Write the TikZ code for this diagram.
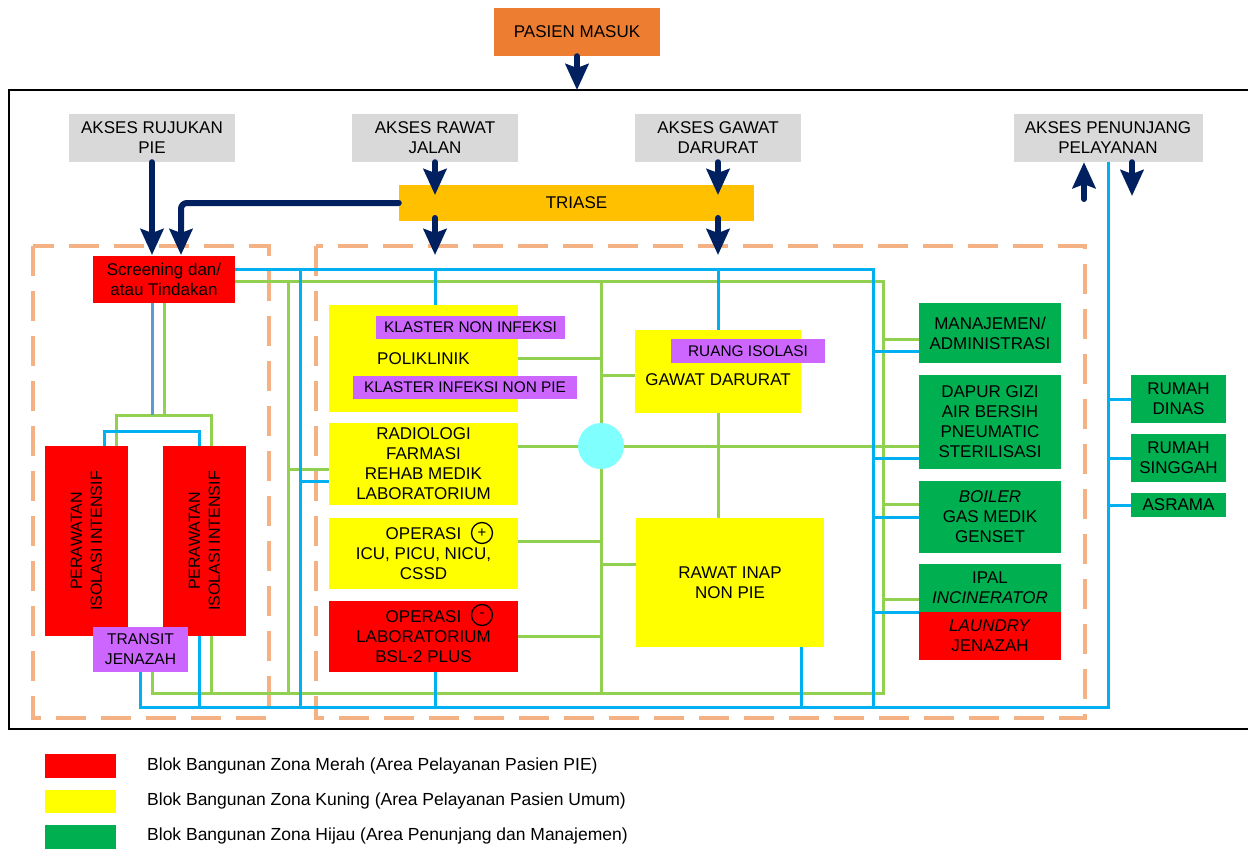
\documentclass[tikz,border=0pt]{standalone}
\usepackage{fontspec}
\setmainfont{Liberation Sans}
\usetikzlibrary{arrows.meta,calc,backgrounds}
\definecolor{navy}{HTML}{002060}
\definecolor{grayb}{HTML}{D9D9D9}
\definecolor{orgb}{HTML}{ED7D31}
\definecolor{triasec}{HTML}{FFC000}
\definecolor{redb}{HTML}{FF0000}
\definecolor{yelb}{HTML}{FFFF00}
\definecolor{grnb}{HTML}{00B050}
\definecolor{purb}{HTML}{CC66FF}
\definecolor{blueL}{HTML}{00B0F0}
\definecolor{greenL}{HTML}{92D050}
\definecolor{steelL}{HTML}{5B9BD5}
\definecolor{dashc}{HTML}{F4B183}
\definecolor{hubc}{HTML}{80FFFF}
\tikzset{
 blk/.style={inner sep=0pt, align=center, text=black, font=\fontsize{17}{20}\selectfont},
 lbl/.style={inner sep=0pt, align=center, text=black, font=\fontsize{15.4}{20}\selectfont, fill=purb},
 bl/.style={draw=blueL, line width=3pt},
 sbl/.style={draw=steelL, line width=3pt},
 gl/.style={draw=greenL, line width=3pt},
 arr/.style={draw=navy, line width=6pt, line cap=round, -{Stealth[length=26pt,width=23pt,inset=4pt]}},
 zone/.style={draw=dashc, line width=3.5pt, dash pattern=on 30pt off 15pt},
 sym/.style={circle, draw=black, line width=1.3pt, minimum size=21pt, inner sep=0pt, font=\fontsize{15}{15}\selectfont}
}
\begin{document}
\begin{tikzpicture}[x=1pt,y=-1pt]
\useasboundingbox (0,0) rectangle (1248,849);
% ---------- top ----------
\node[blk, fill=orgb, minimum width=166pt, minimum height=48pt] (pasien) at (577,32) {PASIEN MASUK};
\node[blk, fill=grayb, minimum width=166pt, minimum height=48pt] (rujukan) at (152,138) {AKSES RUJUKAN\\PIE};
\node[blk, fill=grayb, minimum width=166pt, minimum height=48pt] (rawat) at (435,138) {AKSES RAWAT\\JALAN};
\node[blk, fill=grayb, minimum width=166pt, minimum height=48pt] (gawat) at (718,138) {AKSES GAWAT\\DARURAT};
\node[blk, fill=grayb, minimum width=189pt, minimum height=48pt] (penunjang) at (1108,138) {AKSES PENUNJANG\\PELAYANAN};
\node[blk, fill=triasec, minimum width=355pt, minimum height=36pt] (triase) at (576.5,203) {TRIASE};
% ---------- left zone ----------
\node[blk, fill=redb, minimum width=142pt, minimum height=47pt] (screen) at (164,279.5) {Screening dan/\\atau Tindakan};
\node[blk, fill=redb, minimum width=83pt, minimum height=190pt] (per1) at (86.5,541) {};
\node[blk, rotate=90, font=\fontsize{16}{20}\selectfont] (per1t) at (per1.center) {PERAWATAN\\ISOLASI INTENSIF};
\node[blk, fill=redb, minimum width=83pt, minimum height=190pt] (per2) at (204.5,541) {};
\node[blk, rotate=90, font=\fontsize{16}{20}\selectfont] (per2t) at (per2.center) {PERAWATAN\\ISOLASI INTENSIF};
\node[blk, fill=purb, font=\fontsize{15.6}{20}\selectfont, minimum width=95pt, minimum height=45pt] (transit) at (140.5,649.5) {TRANSIT\\JENAZAH};
% ---------- middle zone ----------
\node[blk, fill=yelb, minimum width=189pt, minimum height=107pt] (poli) at (423.5,358.5) {POLIKLINIK};
\node[lbl, minimum width=189pt, minimum height=23pt] (kno) at (470.5,327.5) {KLASTER NON INFEKSI};
\node[lbl, minimum width=224pt, minimum height=23pt] (kin) at (465,387.5) {KLASTER INFEKSI NON PIE};
\node[blk, fill=yelb, minimum width=166pt, minimum height=83pt] (gd) at (718,371.5) {};
\node[blk] (gdt) at (718,380) {GAWAT DARURAT};
\node[lbl, minimum width=154pt, minimum height=24pt] (ri) at (748,351) {RUANG ISOLASI};
\node[blk, fill=yelb, minimum width=189pt, minimum height=82pt] (rad) at (423.5,464) {RADIOLOGI\\FARMASI\\REHAB MEDIK\\LABORATORIUM};
\node[blk, fill=yelb, minimum width=189pt, minimum height=71pt] (opp) at (423.5,553.5) {OPERASI\\ICU, PICU, NICU,\\CSSD};
\node[sym] (plus) at (482,533) {+};
\node[blk, fill=redb, minimum width=189pt, minimum height=71pt] (opm) at (423.5,636.5) {OPERASI\\LABORATORIUM\\BSL-2 PLUS};
\node[sym] (minus) at (482,615) {-};
\node[blk, fill=yelb, minimum width=188pt, minimum height=129pt] (rinap) at (730,582.5) {RAWAT INAP\\NON PIE};
\node[circle, fill=hubc, minimum size=46pt, inner sep=0pt] (hub) at (601,446) {};
% ---------- green zone ----------
\node[blk, fill=grnb, minimum width=142pt, minimum height=60pt] (man) at (990,333) {MANAJEMEN/\\ADMINISTRASI};
\node[blk, fill=grnb, minimum width=142pt, minimum height=94pt] (dapur) at (990,422) {DAPUR GIZI\\AIR BERSIH\\PNEUMATIC\\STERILISASI};
\node[blk, fill=grnb, minimum width=142pt, minimum height=72pt] (boiler) at (990,517) {\textit{BOILER}\\GAS MEDIK\\GENSET};
\node[blk, fill=grnb, minimum width=142pt, minimum height=48pt] (ipal) at (990,588) {IPAL\\\textit{INCINERATOR}};
\node[blk, fill=redb, minimum width=142pt, minimum height=48pt] (laundry) at (990,636) {\textit{LAUNDRY}\\JENAZAH};
\node[blk, fill=grnb, minimum width=95pt, minimum height=48pt] (dinas) at (1178.5,399) {RUMAH\\DINAS};
\node[blk, fill=grnb, minimum width=95pt, minimum height=48pt] (singgah) at (1178.5,458) {RUMAH\\SINGGAH};
\node[blk, fill=grnb, minimum width=95pt, minimum height=24pt] (asrama) at (1178.5,505) {ASRAMA};
% ---------- legend ----------
\node[fill=redb, minimum width=71pt, minimum height=24pt, inner sep=0pt] (legR) at (80.5,766) {};
\node[blk, anchor=west, font=\fontsize{17.5}{20}\selectfont] (legRt) at (147,766) {Blok Bangunan Zona Merah (Area Pelayanan Pasien PIE)};
\node[fill=yelb, minimum width=71pt, minimum height=23pt, inner sep=0pt] (legY) at (80.5,801.5) {};
\node[blk, anchor=west, font=\fontsize{17.5}{20}\selectfont] (legYt) at (147,801) {Blok Bangunan Zona Kuning (Area Pelayanan Pasien Umum)};
\node[fill=grnb, minimum width=71pt, minimum height=24pt, inner sep=0pt] (legG) at (80.5,837) {};
\node[blk, anchor=west, font=\fontsize{17.5}{20}\selectfont] (legGt) at (147,836) {Blok Bangunan Zona Hijau (Area Penunjang dan Manajemen)};
% ---------- coordinates ----------
\coordinate (frT) at (577,90);
\coordinate (bT) at (873,269);
\coordinate (bB) at (873,707);
\coordinate (gT) at (883,281);
\coordinate (gB) at (883,693);
\coordinate (bL) at (300,269);
\coordinate (gL) at (288,281);
\coordinate (pB) at (1108,707);
\coordinate (radB) at (329,481);
\coordinate (radG) at (329,469);
\coordinate (riB) at (801,647);
\coordinate (manB) at (919,351);
\coordinate (dapB) at (919,458);
\coordinate (boiB) at (919,517);
\coordinate (ipaB) at (919,612);
\coordinate (manG) at (919,339);
\coordinate (boiG) at (919,504);
\coordinate (ipaG) at (919,599);
\coordinate (p2B) at (199,636);
\coordinate (p2G) at (211,636);
\coordinate (brG) at (164,415);
\coordinate (brG1) at (116,446);
\coordinate (brG2) at (211,446);
\coordinate (brB1) at (104,446);
\coordinate (brB2) at (199,446);
\coordinate (gdG) at (635,375);
\coordinate (oppG) at (518,541);
\coordinate (riG) at (636,564);
\coordinate (scrIn) at (181,255);
\coordinate (rjIn) at (435,195);
\coordinate (rjOut) at (435,218);
\coordinate (rjTip) at (435,255);
\coordinate (gwIn) at (718,195);
\coordinate (gwOut) at (718,218);
\coordinate (gwTip) at (718,255);
\coordinate (pu) at (1084,199);
\coordinate (pd) at (1132,196);
% ---------- background: frame, zones, lines ----------
\begin{pgfonlayer}{background}
\draw[line width=2.5pt] (9,90) rectangle (1262,729);
\draw[zone] (33,246) rectangle (269,718);
\draw[zone] (316,246) rectangle (1085,718);
% green lines
\draw[gl] (screen.east |- gT) -- (gT) -- (gB) -| (transit.south -| rujukan.south);
\draw[gl] (gL) -- (gL |- gB);
\draw[gl] (gL |- radG) -- (radG);
\draw[gl] (hub |- gT) -- (hub |- gB);
\draw[gl] (poli.east) -- (poli.east -| hub);
\draw[gl] (gdG -| hub) -- (gdG);
\draw[gl] (rad.east |- hub) -- (dapur.west |- hub);
\draw[gl] (gd.south) -- (gd.south |- rinap.north);
\draw[gl] (oppG) -- (oppG -| hub);
\draw[gl] (riG -| hub) -- (riG);
\draw[gl] (opm.east) -- (opm.east -| hub);
\draw[gl] (gT |- manG) -- (manG);
\draw[gl] (gT |- boiG) -- (boiG);
\draw[gl] (gT |- ipaG) -- (ipaG);
\draw[gl] (screen.south) -- (brG);
\draw[gl] (brG1) |- (brG) -| (brG2);
\draw[gl] (p2G) -- (p2G |- gB);
% blue lines
\draw[sbl] (screen.south -| rujukan.south) -- (rujukan.south |- brG);
\draw[bl] (screen.east |- bT) -- (bT) -- (bB);
\draw[bl] (transit.south) |- (pB) -- (penunjang.south);
\draw[bl] (bL) -- (bL |- bB);
\draw[bl] (bL |- radB) -- (radB);
\draw[bl] (rawat.south |- bT) -- (rawat.south |- poli.north);
\draw[bl] (gd.north |- bT) -- (gd.north);
\draw[bl] (rawat.south |- opm.south) -- (rawat.south |- bB);
\draw[bl] (riB) -- (riB |- bB);
\draw[bl] (bT |- manB) -- (manB);
\draw[bl] (bT |- dapB) -- (dapB);
\draw[bl] (bT |- boiB) -- (boiB);
\draw[bl] (bT |- ipaB) -- (ipaB);
\draw[bl] (p2B) -- (p2B |- bB);
\draw[bl] (brB1) -- ++(0,-15) -| (brB2);
\draw[bl] (penunjang.south |- dinas.west) -- (dinas.west);
\draw[bl] (penunjang.south |- singgah.west) -- (singgah.west);
\draw[bl] (penunjang.south |- asrama.west) -- (asrama.west);
\end{pgfonlayer}
% ---------- navy arrows ----------
\draw[arr] (pasien.south) -- (frT);
\draw[arr] (rujukan.south) -- (rujukan.south |- scrIn);
\draw[arr, rounded corners=6pt] (triase.west) -| (scrIn);
\draw[arr] (rawat.south) -- (rjIn);
\draw[arr] (rjOut) -- (rjTip);
\draw[arr] (gawat.south) -- (gwIn);
\draw[arr] (gwOut) -- (gwTip);
\draw[arr] (pu) -- (pu |- penunjang.south);
\draw[arr] (pd |- penunjang.south) -- (pd);
\end{tikzpicture}
\end{document}
